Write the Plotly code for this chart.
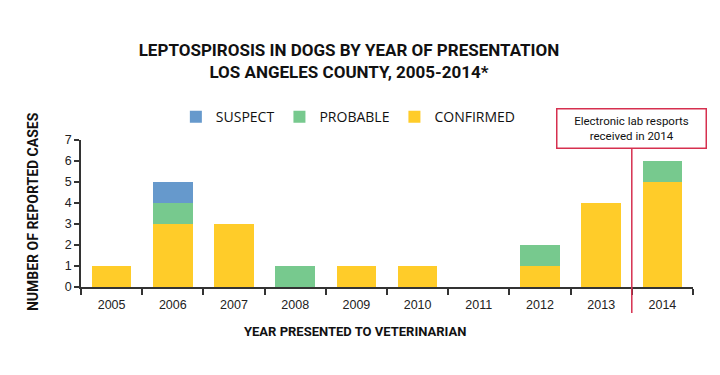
import plotly.graph_objects as go

years = ["2005", "2006", "2007", "2008", "2009", "2010", "2011", "2012", "2013", "2014"]
confirmed = [1, 3, 3, 0, 1, 1, 0, 1, 4, 5]
probable = [0, 1, 0, 1, 0, 0, 0, 1, 0, 1]
suspect = [0, 1, 0, 0, 0, 0, 0, 0, 0, 0]
y_ticks = [0, 1, 2, 3, 4, 5, 6, 7]

COND = "Roboto, sans-serif"
ARIAL = "Liberation Sans, Arial, sans-serif"
W, H = 712, 367

fig = go.Figure()
fig.add_trace(go.Bar(x=years, y=confirmed, name="CONFIRMED", marker_color="#FFCC29",
                     marker_line_width=0))
fig.add_trace(go.Bar(x=years, y=probable, name="PROBABLE", marker_color="#77C98E",
                     marker_line_width=0))
fig.add_trace(go.Bar(x=years, y=suspect, name="SUSPECT", marker_color="#6699CC",
                     marker_line_width=0))

fig.update_layout(
    barmode="stack",
    bargap=0.35,
    width=W, height=H,
    margin=dict(l=73, r=27, t=132, b=88),
    paper_bgcolor="white", plot_bgcolor="white",
    title=dict(text="LEPTOSPIROSIS IN DOGS BY YEAR OF PRESENTATION<br>LOS ANGELES COUNTY, 2005-2014*",
               x=(349 - 8) / W, xanchor="center", y=1 - 48 / H, yanchor="top", yref="container",
               font=dict(family=COND, size=17, color="#111111", weight="bold")),
    legend=dict(orientation="h", traceorder="reversed", x=0.155, xanchor="left",
                y=1.156, yanchor="middle", font=dict(family="Open Sans, sans-serif", size=14, color="#111"),
                bgcolor="rgba(0,0,0,0)"),
    xaxis=dict(tickson="boundaries", ticks="outside", ticklen=6, tickcolor="#333", tickwidth=1.5,
               showline=True, linecolor="#333", linewidth=1.5, showgrid=False, ticklabelstandoff=5,
               tickfont=dict(family=ARIAL, size=12.5, color="#222"), range=[-0.5, 9.5]),
    yaxis=dict(range=[0, 7], tickvals=y_ticks, ticks="outside", ticklen=5, tickcolor="#333", tickwidth=1.5,
               showline=True, linecolor="#333", linewidth=1.5, showgrid=False, zeroline=False,
               tickfont=dict(family=ARIAL, size=12.5, color="#222")),
    showlegend=True,
)

fig.add_shape(type="line", xref="x", yref="paper", x0=8.5, x1=8.5, y0=-0.177, y1=0.94,
              line=dict(color="#D6304F", width=1.5))

fig.add_annotation(xref="paper", yref="paper", x=0.9, y=1.075, text="Electronic lab resports<br>received in 2014",
                   showarrow=False, font=dict(family=COND, size=11.5, color="#111"),
                   bordercolor="#D6304F", borderwidth=1.5, bgcolor="white", width=146, height=36,
                   align="center", xanchor="center", yanchor="middle")

fig.add_annotation(xref="paper", yref="paper", x=-0.0784, y=0.51, text="<b>NUMBER OF REPORTED CASES</b>",
                   textangle=-90, showarrow=False, xanchor="center", yanchor="middle",
                   font=dict(family=COND, size=14, color="#111"))
fig.add_annotation(xref="paper", yref="paper", x=0.448, y=-0.306, text="<b>YEAR PRESENTED TO VETERINARIAN</b>",
                   showarrow=False, xanchor="center", yanchor="middle",
                   font=dict(family=COND, size=13, color="#111"))

fig.write_html("out.html")
